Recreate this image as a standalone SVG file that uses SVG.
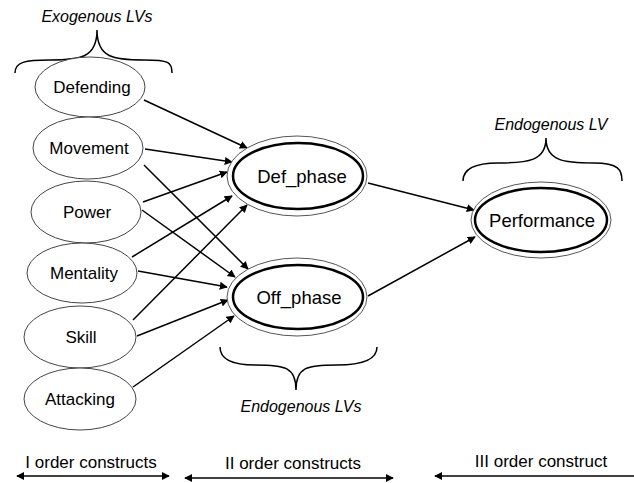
<svg xmlns="http://www.w3.org/2000/svg" width="634" height="483" viewBox="0 0 634 483">
<defs>
<marker id="ah" viewBox="0 0 10 10" refX="9" refY="5" markerWidth="8" markerHeight="8" markerUnits="userSpaceOnUse" orient="auto-start-reverse">
<path d="M0,0 L10,5 L0,10 z" fill="#000"/>
</marker>
<style>
.lv{fill:#fff;stroke:#444;stroke-width:1}
.outer{fill:#fff;stroke:#555;stroke-width:1}
.inner{fill:none;stroke:#000;stroke-width:2.5}
.lbl{font-family:"Liberation Sans",Arial,sans-serif;font-size:17px;fill:#000;text-anchor:middle}
.big{font-size:18.5px}
.it{font-family:"Liberation Sans",Arial,sans-serif;font-size:16px;font-style:italic;fill:#000;text-anchor:middle}
.c{stroke:#000;stroke-width:1.5;fill:none;marker-end:url(#ah)}
.brace{stroke:#000;stroke-width:1.5;fill:none}
.dbl{stroke:#000;stroke-width:1.5;fill:none;marker-end:url(#ah);marker-start:url(#ah)}
</style>
</defs>
<rect width="634" height="483" fill="#fff"/>

<g id="braces">
<path class="brace" d="M15,73 C15,62 25,60 50,60 C80,60 97,58 97,30 C97,58 114,60 144,60 C169,60 172,62 172,73"/>
<path class="brace" d="M463,181 C463,170 473,163 498,163 C528,163 546,161 546,138 C546,161 564,163 594,163 C619,163 622,170 622,181"/>
<path class="brace" d="M220,347 C220,358 230,365 255,365 C285,365 296,367 296,390 C296,367 307,365 337,365 C367,365 377,358 377,347"/>
</g>
<g id="brace-labels">
<text class="it" x="97" y="22">Exogenous LVs</text>
<text class="it" x="551" y="130">Endogenous LV</text>
<text class="it" x="301" y="412">Endogenous LVs</text>
</g>

<g id="connectors">
<line class="c" x1="144" y1="100" x2="247" y2="148"/>
<line class="c" x1="145" y1="149" x2="232" y2="162"/>
<line class="c" x1="143" y1="202" x2="227" y2="172"/>
<line class="c" x1="132" y1="257" x2="232" y2="196"/>
<line class="c" x1="133" y1="320" x2="247" y2="205"/>
<line class="c" x1="144" y1="165" x2="248" y2="269"/>
<line class="c" x1="142" y1="210" x2="235" y2="277"/>
<line class="c" x1="138" y1="271" x2="227" y2="287"/>
<line class="c" x1="137" y1="336" x2="228" y2="300"/>
<line class="c" x1="133" y1="387" x2="234" y2="316"/>
<line class="c" x1="368" y1="183" x2="474" y2="210"/>
<line class="c" x1="368" y1="296" x2="475" y2="237"/>
</g>

<g id="defending"><ellipse class="lv" cx="90" cy="87" rx="55" ry="30"/><text class="lbl" x="92" y="93">Defending</text></g>
<g id="movement"><ellipse class="lv" cx="88" cy="148" rx="55" ry="31"/><text class="lbl" x="89" y="154">Movement</text></g>
<g id="power"><ellipse class="lv" cx="86" cy="212" rx="55" ry="31"/><text class="lbl" x="87" y="218">Power</text></g>
<g id="mentality"><ellipse class="lv" cx="82" cy="273" rx="55" ry="30"/><text class="lbl" x="84" y="279">Mentality</text></g>
<g id="skill"><ellipse class="lv" cx="80" cy="337" rx="56" ry="31"/><text class="lbl" x="81" y="343">Skill</text></g>
<g id="attacking"><ellipse class="lv" cx="80" cy="399" rx="56" ry="31"/><text class="lbl" x="80" y="405">Attacking</text></g>

<g id="def_phase"><ellipse class="outer" cx="297" cy="176" rx="70" ry="40"/><ellipse class="inner" cx="298" cy="176" rx="65" ry="33"/><text class="lbl big" x="302" y="183">Def_phase</text></g>
<g id="off_phase"><ellipse class="outer" cx="297" cy="297" rx="70" ry="39"/><ellipse class="inner" cx="298" cy="297" rx="65" ry="32"/><text class="lbl big" x="299" y="304">Off_phase</text></g>
<g id="performance"><ellipse class="outer" cx="541" cy="220" rx="70" ry="38"/><ellipse class="inner" cx="541" cy="220" rx="66" ry="32"/><text class="lbl big" x="542" y="227">Performance</text></g>

<g id="order-scale">
<text class="lbl" x="91" y="468">I order constructs</text>
<text class="lbl" x="293" y="469">II order constructs</text>
<text class="lbl" x="541" y="467">III order construct</text>
<line class="dbl" x1="17" y1="476" x2="169" y2="476"/>
<line class="dbl" x1="185" y1="478" x2="393" y2="478"/>
<line class="c" x1="640" y1="476" x2="435" y2="476"/>
</g>
</svg>
